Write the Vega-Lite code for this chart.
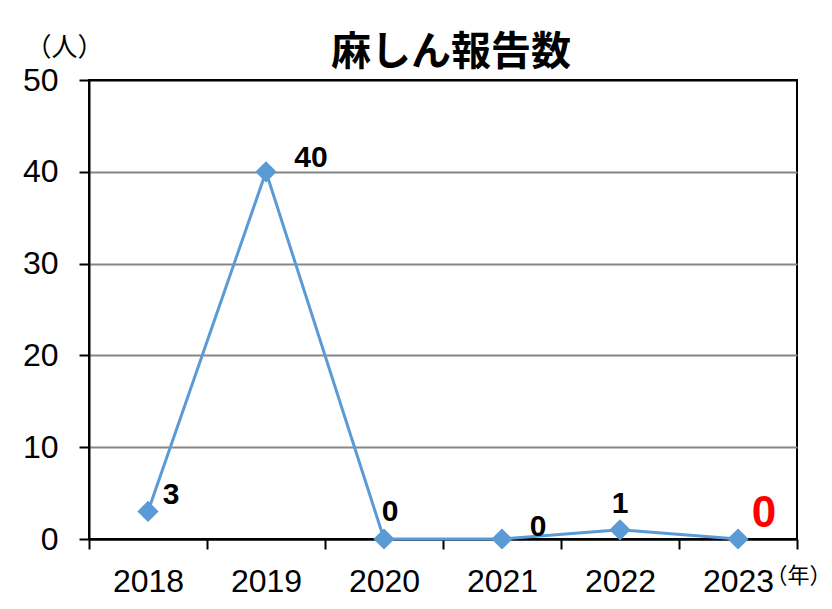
{
  "$schema": "https://vega.github.io/schema/vega-lite/v6.json",
  "width": 708,
  "height": 459,
  "autosize": {"type": "none"},
  "padding": {"left": 89, "top": 80, "right": 35, "bottom": 70},
  "background": "white",
  "config": {"view": {"stroke": "black", "strokeWidth": 2}},
  "title": {"text": "麻しん報告数", "font": "Noto Sans CJK JP", "fontSize": 40, "fontWeight": "bold", "color": "black", "anchor": "middle", "dx": 8, "dy": 49, "offset": 10},
  "data": {"values": [
    {"year": "2018", "count": 3},
    {"year": "2019", "count": 40},
    {"year": "2020", "count": 0},
    {"year": "2021", "count": 0},
    {"year": "2022", "count": 1},
    {"year": "2023", "count": 0}
  ]},
  "encoding": {
    "x": {"field": "year", "type": "ordinal", "scale": {"paddingInner": 0, "paddingOuter": 0},
      "axis": {"title": "（年）", "tickBand": "extent", "tickSize": 10, "tickColor": "black", "tickWidth": 2, "domainColor": "black", "domainWidth": 2, "labelFont": "Liberation Sans", "labelFontSize": 32, "labelColor": "black", "labelPadding": 17, "labelAngle": 0, "grid": false, "titleFont": "Noto Sans CJK JP", "titleFontSize": 22, "titleFontWeight": "normal", "titleColor": "black", "titleX": 709, "titleY": 36, "titleBaseline": "middle", "titleAlign": "center"}},
    "y": {"field": "count", "type": "quantitative", "scale": {"domain": [0, 50]},
      "axis": {"values": [0, 10, 20, 30, 40, 50], "title": "（人）", "titleAngle": 0, "titleX": -25, "titleY": -33, "titleAlign": "center", "titleBaseline": "middle", "titleFont": "Noto Sans CJK JP", "titleFontSize": 26, "titleFontWeight": "normal", "titleColor": "black", "tickSize": 10, "tickColor": "black", "tickWidth": 2, "domainColor": "black", "domainWidth": 2, "gridColor": {"condition": {"test": "datum.value === 0 || datum.value === 50", "value": "black"}, "value": "#868686"}, "gridWidth": 2, "labelFont": "Liberation Sans", "labelFontSize": 32, "labelColor": "black", "labelPadding": 21}}
  },
  "layer": [
    {"mark": {"type": "line", "color": "#5B9BD5", "strokeWidth": 3}},
    {"mark": {"type": "point", "shape": "diamond", "filled": true, "size": 450, "color": "#5B9BD5", "opacity": 1}},
    {"transform": [{"filter": "datum.year === '2018'"}], "mark": {"type": "text", "font": "Liberation Sans", "fontSize": 30, "fontWeight": "bold", "color": "black", "dx": 23, "dy": -16}, "encoding": {"text": {"field": "count"}}},
    {"transform": [{"filter": "datum.year === '2019'"}], "mark": {"type": "text", "font": "Liberation Sans", "fontSize": 30, "fontWeight": "bold", "color": "black", "dx": 45, "dy": -14}, "encoding": {"text": {"field": "count"}}},
    {"transform": [{"filter": "datum.year === '2020'"}], "mark": {"type": "text", "font": "Liberation Sans", "fontSize": 30, "fontWeight": "bold", "color": "black", "dx": 6, "dy": -27}, "encoding": {"text": {"field": "count"}}},
    {"transform": [{"filter": "datum.year === '2021'"}], "mark": {"type": "text", "font": "Liberation Sans", "fontSize": 30, "fontWeight": "bold", "color": "black", "dx": 36, "dy": -12}, "encoding": {"text": {"field": "count"}}},
    {"transform": [{"filter": "datum.year === '2022'"}], "mark": {"type": "text", "font": "Liberation Sans", "fontSize": 30, "fontWeight": "bold", "color": "black", "dx": 0, "dy": -26}, "encoding": {"text": {"field": "count"}}},
    {"transform": [{"filter": "datum.year === '2023'"}], "mark": {"type": "text", "font": "Liberation Sans", "fontSize": 44, "fontWeight": "bold", "color": "#FF0000", "dx": 26, "dy": -25}, "encoding": {"text": {"field": "count"}}}
  ]
}
